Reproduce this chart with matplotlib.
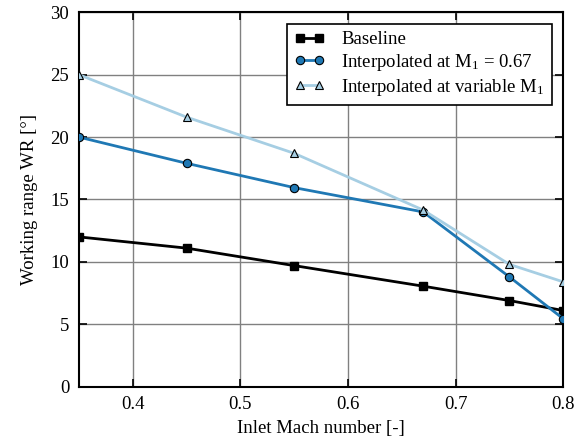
import matplotlib
matplotlib.use("Agg")
import matplotlib.pyplot as plt

mach = [0.35, 0.45, 0.55, 0.67, 0.75, 0.80]
baseline = [12.0, 11.1, 9.7, 8.05, 6.9, 6.1]
interp_067 = [20.0, 17.9, 15.95, 14.0, 8.8, 5.45]
interp_var = [25.0, 21.6, 18.7, 14.15, 9.8, 8.4]
labels = ["Baseline", r"Interpolated at M$_1$ = 0.67", r"Interpolated at variable M$_1$"]

plt.rcParams['font.family'] = ['Liberation Serif', 'DejaVu Serif']
plt.rcParams['mathtext.fontset'] = 'custom'
plt.rcParams['mathtext.rm'] = 'Liberation Serif'
plt.rcParams['mathtext.it'] = 'Liberation Serif:italic'

FS = 13.5

fig = plt.figure(figsize=(5.74, 4.48), dpi=100)
ax = fig.add_axes([0.1376, 0.137, 0.8434, 0.8355])

ax.plot(mach, baseline, color='black', lw=2, marker='s', ms=6, mfc='black', mec='black', label=labels[0], zorder=3)
ax.plot(mach, interp_067, color='#1f78b4', lw=2, marker='o', ms=6, mfc='#1f78b4', mec='black', mew=0.8, label=labels[1], zorder=3)
ax.plot(mach, interp_var, color='#a6cee3', lw=2, marker='^', ms=6, mfc='#a6cee3', mec='black', mew=0.8, label=labels[2], zorder=3)

ax.set_xlim(0.35, 0.8)
ax.set_ylim(0, 30)
ax.set_xticks([0.4, 0.5, 0.6, 0.7, 0.8])
ax.set_xticklabels(['0.4', '0.5', '0.6', '0.7', '0.8'])
ax.set_yticks([0, 5, 10, 15, 20, 25, 30])
ax.grid(True, color='#808080', lw=1)
ax.set_axisbelow(True)
ax.tick_params(direction='in', top=True, right=True, length=6, width=1.2, labelsize=FS, pad=7)
for s in ax.spines.values():
    s.set_linewidth(1.5)

ax.set_xlabel('Inlet Mach number [-]', fontsize=FS, labelpad=5)
ax.set_ylabel('Working range WR [°]', fontsize=FS, labelpad=9)

leg = ax.legend(loc='upper right', fontsize=FS, fancybox=False, framealpha=1, edgecolor='black',
                borderaxespad=0.6, handlelength=1.6, handletextpad=0.9, labelspacing=0.2,
                numpoints=2, borderpad=0.4)
leg.get_frame().set_linewidth(1.2)

fig.savefig('out.png', dpi=100)
